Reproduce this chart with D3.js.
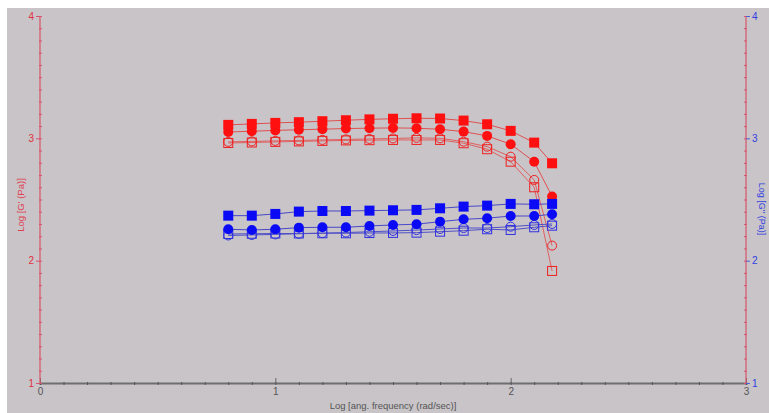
<!DOCTYPE html>
<html><head><meta charset="utf-8">
<script src="https://cdn.jsdelivr.net/npm/d3@7"></script>
<style>html,body{margin:0;padding:0;background:#fff;}svg{display:block;font-family:"Liberation Sans",Arial,sans-serif;}</style>
</head><body>
<svg id="c" width="769" height="413"></svg>
<script>
// ---- data ----
const freq = [0.8,0.9,1.0,1.1,1.2,1.3,1.4,1.5,1.6,1.7,1.8,1.9,2.0,2.1,2.176];
const redFilledSq   = [3.110,3.118,3.126,3.132,3.140,3.148,3.155,3.160,3.164,3.162,3.145,3.115,3.061,2.965,2.796];
const redFilledCirc = [3.052,3.058,3.065,3.070,3.075,3.080,3.083,3.085,3.083,3.074,3.055,3.020,2.952,2.809,2.525];
const redOpenSq     = [2.962,2.966,2.971,2.975,2.979,2.983,2.985,2.987,2.987,2.987,2.960,2.911,2.809,2.600,1.916];
const redOpenCirc   = [2.971,2.975,2.979,2.983,2.987,2.991,2.995,2.999,3.004,3.000,2.973,2.932,2.850,2.660,2.123];
const blueFilledSq   = [2.368,2.368,2.382,2.401,2.406,2.406,2.409,2.412,2.415,2.428,2.442,2.450,2.464,2.461,2.464];
const blueFilledCirc = [2.257,2.251,2.257,2.270,2.273,2.273,2.284,2.292,2.298,2.319,2.338,2.347,2.365,2.365,2.379];
const blueOpenSq     = [2.218,2.220,2.222,2.222,2.224,2.224,2.226,2.227,2.229,2.237,2.245,2.257,2.251,2.273,2.286];
const blueOpenCirc   = [2.206,2.210,2.215,2.220,2.225,2.230,2.236,2.243,2.250,2.259,2.267,2.267,2.278,2.292,2.300];
const xTicks = [0,1,2,3];
const yTicks = [1,2,3,4];
const xLabel = "Log [ang. frequency (rad/sec)]";
const yLeftLabel = "Log [G' (Pa)]";
const yRightLabel = "Log [G'' (Pa)]";

// ---- chart ----
const svg = d3.select("#c");
svg.append("rect").attr("x",7).attr("y",8).attr("width",762).attr("height",405).attr("fill","#c8c4c8");

const x = d3.scaleLinear().domain([0,3]).range([40,746]);
const yL = d3.scaleLinear().domain([1,4]).range([383,16]);
const yR = d3.scaleLinear().domain([1,4]).range([383,16]);

const axisRed = "#d8546c";
const minorX = d3.range(0,3.0001,0.1);
const minorY = d3.range(1,4.0001,0.1);

// x axis
const gx = svg.append("g").attr("transform","translate(0,383)");
gx.call(d3.axisBottom(x).tickValues(minorX).tickSize(2).tickFormat(""));
gx.call(g=>g.selectAll(".tick line").attr("stroke","#555").attr("y1",-1));
gx.select(".domain").attr("stroke","#6e6e6e").attr("stroke-width",2);
const gx2 = svg.append("g").attr("transform","translate(0,383)");
gx2.call(d3.axisBottom(x).tickValues(xTicks).tickSize(0).tickPadding(5).tickFormat(d3.format("d")));
gx2.select(".domain").remove();
gx2.selectAll(".tick").append("line").attr("y1",0).attr("y2",-5).attr("stroke","#666");
gx2.selectAll("text").attr("fill","#555").attr("font-size",10).attr("font-family","Liberation Sans, Arial");

// left axis
const gl = svg.append("g").attr("transform","translate(40,0)");
gl.call(d3.axisRight(yL).tickValues(minorY).tickSize(2).tickFormat(""));
gl.selectAll(".tick line").attr("stroke",axisRed).attr("x1",-1);
gl.select(".domain").remove();
const gl2 = svg.append("g").attr("transform","translate(40,0)");
gl2.call(d3.axisLeft(yL).tickValues(yTicks).tickSize(4).tickPadding(2).tickFormat(d3.format("d")));
gl2.select(".domain").attr("stroke",axisRed).attr("stroke-width",1.2).attr("d","M0,16V383");
gl2.selectAll(".tick line").attr("stroke",axisRed);
gl2.selectAll("text").attr("fill","#e03040").attr("font-size",10).attr("font-family","Liberation Sans, Arial");

// right axis
const gr = svg.append("g").attr("transform","translate(746,0)");
gr.call(d3.axisLeft(yR).tickValues(minorY).tickSize(2).tickFormat(""));
gr.selectAll(".tick line").attr("stroke",axisRed).attr("x1",1);
gr.select(".domain").remove();
const gr2 = svg.append("g").attr("transform","translate(746,0)");
gr2.call(d3.axisRight(yR).tickValues(yTicks).tickSize(4).tickPadding(2).tickFormat(d3.format("d")));
gr2.select(".domain").attr("stroke",axisRed).attr("stroke-width",1.2).attr("d","M0,16V383");
gr2.selectAll(".tick line").attr("stroke","#5060d0");
gr2.selectAll("text").attr("fill","#3040e0").attr("font-size",10).attr("font-family","Liberation Sans, Arial");

// axis titles
svg.append("text").attr("x",393).attr("y",409).attr("text-anchor","middle")
  .attr("font-size",9.5).attr("fill","#555").text(xLabel);
svg.append("text").attr("transform","translate(24,205) rotate(-90)").attr("text-anchor","middle")
  .attr("font-size",9.5).attr("fill","#e04050").text(yLeftLabel);
svg.append("text").attr("transform","translate(759,209) rotate(90)").attr("text-anchor","middle")
  .attr("font-size",9).attr("fill","#3040e0").text(yRightLabel);

// series
const series = [
  {v:redOpenSq, y:yL, col:"#f02020", line:"#e06060", shape:"sq", filled:false},
  {v:redOpenCirc, y:yL, col:"#f02020", line:"#e06060", shape:"ci", filled:false},
  {v:redFilledCirc, y:yL, col:"#ff1010", line:"#e05050", shape:"ci", filled:true},
  {v:redFilledSq, y:yL, col:"#ff1010", line:"#e05050", shape:"sq", filled:true},
  {v:blueOpenSq, y:yR, col:"#3030e0", line:"#5050c8", shape:"sq", filled:false},
  {v:blueOpenCirc, y:yR, col:"#3030e0", line:"#5050c8", shape:"ci", filled:false},
  {v:blueFilledCirc, y:yR, col:"#0a0af5", line:"#4848c8", shape:"ci", filled:true},
  {v:blueFilledSq, y:yR, col:"#0a0af5", line:"#4848c8", shape:"sq", filled:true},
];
const line = (ys)=>d3.line().x((d,i)=>x(freq[i])).y(d=>ys(d));
series.forEach(s=>{
  svg.append("path").attr("d",line(s.y)(s.v)).attr("fill","none").attr("stroke",s.line).attr("stroke-width",1);
});
series.forEach(s=>{
  const g = svg.append("g");
  const pts = s.v.map((d,i)=>({cx:x(freq[i]), cy:s.y(d)}));
  if(s.shape==="sq"){
    const sz = s.filled?10:9;
    g.selectAll("rect").data(pts).join("rect")
      .attr("x",d=>d.cx-sz/2).attr("y",d=>d.cy-sz/2).attr("width",sz).attr("height",sz)
      .attr("fill",s.filled?s.col:"none").attr("stroke",s.col).attr("stroke-width",s.filled?0:1);
  } else {
    const r = s.filled?5:4.5;
    g.selectAll("circle").data(pts).join("circle")
      .attr("cx",d=>d.cx).attr("cy",d=>d.cy).attr("r",r)
      .attr("fill",s.filled?s.col:"none").attr("stroke",s.col).attr("stroke-width",s.filled?0:1);
  }
});
</script>
</body></html>
